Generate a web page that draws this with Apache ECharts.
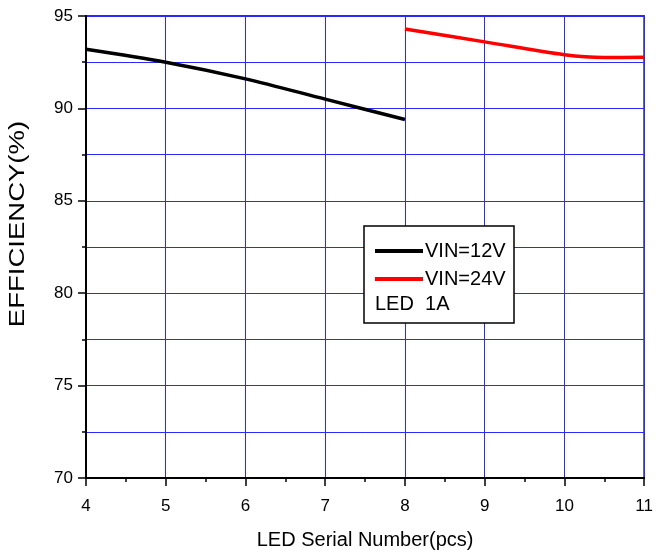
<!DOCTYPE html>
<html>
<head>
<meta charset="utf-8">
<script src="https://cdn.jsdelivr.net/npm/echarts@6/dist/echarts.min.js"></script>
<style>html,body{margin:0;padding:0;background:#fff}#c{width:656px;height:555px}</style>
</head>
<body>
<div id="c"></div>
<script>
// Data
const xVin12 = [4, 5, 6, 7, 8];
const yVin12 = [93.2, 92.5, 91.6, 90.5, 89.4];
const xVin24 = [8, 9, 10, 10.5, 11];
const yVin24 = [94.3, 93.6, 92.9, 92.75, 92.77];
const seriesNames = ['VIN=12V', 'VIN=24V'];
const noteText = 'LED  1A';
const xTitle = 'LED Serial Number(pcs)';
const yTitle = 'EFFICIENCY(%)';

const FONT = 'Liberation Sans, Arial, sans-serif';
const chart = echarts.init(document.getElementById('c'), null, {renderer: 'canvas'});
const blue = '#2a2aff';
chart.setOption({
  animation: false,
  backgroundColor: '#fff',
  grid: {left: 86, right: 10, top: 16, bottom: 74, show: true, borderColor: '#000', borderWidth: 1.5, backgroundColor: 'transparent'},
  xAxis: {
    type: 'value', min: 4, max: 11, interval: 1,
    name: xTitle, nameLocation: 'middle', nameGap: 52,
    nameTextStyle: {fontFamily: FONT, fontSize: 20, color: '#000'},
    axisLine: {show: true, onZero: false, lineStyle: {color: '#000', width: 2}},
    axisTick: {show: true, inside: false, length: 8, lineStyle: {color: '#000', width: 1.5}},
    minorTick: {show: true, splitNumber: 2, length: 4, lineStyle: {color: '#000', width: 1.5}},
    axisLabel: {fontFamily: FONT, fontSize: 17, color: '#000', margin: 20},
    splitLine: {show: true, lineStyle: {color: blue, width: 1}}
  },
  yAxis: {
    type: 'value', min: 70, max: 95, interval: 5,
    axisLine: {show: true, onZero: false, lineStyle: {color: '#000', width: 2}},
    axisTick: {show: true, inside: false, length: 8, lineStyle: {color: '#000', width: 1.5}},
    minorTick: {show: true, splitNumber: 2, length: 4, lineStyle: {color: '#000', width: 1.5}},
    axisLabel: {fontFamily: FONT, fontSize: 17, color: '#000', margin: 13},
    splitLine: {show: true, lineStyle: {color: blue, width: 1}},
    minorSplitLine: {show: true, lineStyle: {color: blue, width: 1}}
  },
  legend: {
    orient: 'vertical', left: 370, top: 236, itemGap: 8,
    itemWidth: 48, itemHeight: 4, icon: 'rect', z: 10,
    textStyle: {fontFamily: FONT, fontSize: 20, color: '#000', padding: [0, 0, 0, -3]},
    data: seriesNames
  },
  graphic: [
    {type: 'rect', z: 5, shape: {x: 364, y: 226, width: 150, height: 97}, style: {fill: '#fff', stroke: '#000', lineWidth: 1.5}},
    {type: 'text', z: 11, x: 375, y: 304, style: {text: noteText, font: '20px ' + FONT, fill: '#000', textVerticalAlign: 'middle', verticalAlign: 'middle'}},
    {type: 'text', z: 11, x: 18, y: 224, rotation: Math.PI / 2, scaleX: 1.25,
     style: {text: yTitle, font: '22px ' + FONT, fill: '#000', align: 'center', textAlign: 'center', verticalAlign: 'middle', textVerticalAlign: 'middle'}}
  ],
  series: [
    {name: seriesNames[0], type: 'line', smooth: 0.3, showSymbol: false, symbol: 'none', color: '#000',
     lineStyle: {color: '#000', width: 3.5}, data: xVin12.map((x, i) => [x, yVin12[i]])},
    {name: seriesNames[1], type: 'line', smooth: 0.3, showSymbol: false, symbol: 'none', color: '#ff0000',
     lineStyle: {color: '#ff0000', width: 3.5}, data: xVin24.map((x, i) => [x, yVin24[i]])}
  ]
});
</script>
</body>
</html>
